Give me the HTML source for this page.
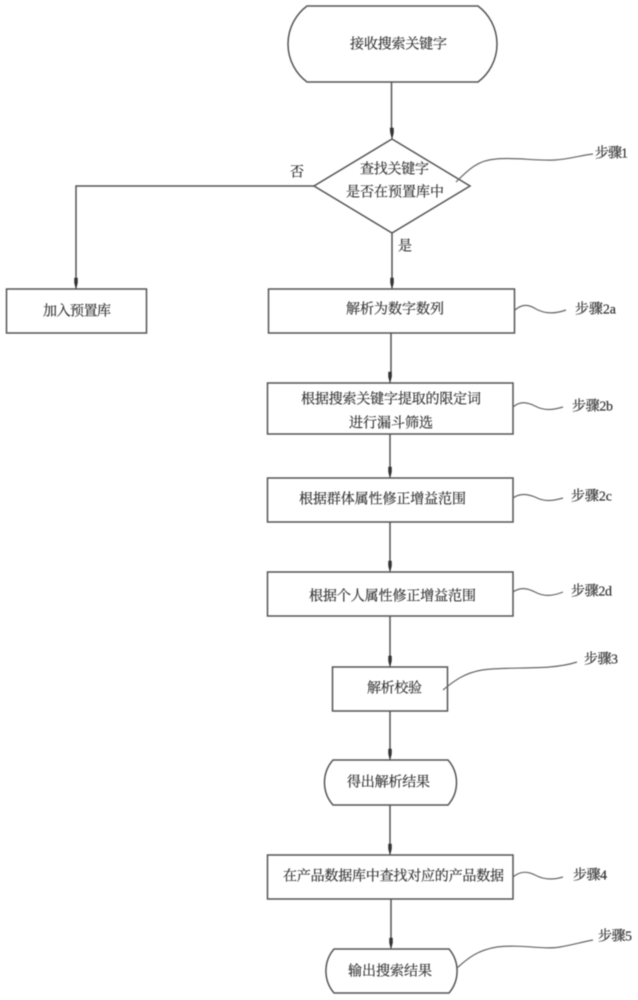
<!DOCTYPE html>
<html><head><meta charset="utf-8"><style>
html,body{margin:0;padding:0;background:#fff;width:638px;height:1000px;overflow:hidden}
svg{display:block}
text{font-family:"Liberation Serif","Noto Serif CJK SC",serif;font-size:14px;fill:#333;stroke:#333;stroke-width:.2;dominant-baseline:central}
.s{fill:none;stroke:#555;stroke-width:1.5}
.c{fill:none;stroke:#666;stroke-width:1.2}
.a{fill:#333;stroke:#333;stroke-width:.5}
</style></head><body>
<svg width="638" height="1000" viewBox="0 0 638 1000" xmlns="http://www.w3.org/2000/svg">
<defs><filter id="b" x="-5%" y="-5%" width="110%" height="110%"><feGaussianBlur stdDeviation="0.5"/></filter></defs>
<g filter="url(#b)">
<path class="s" d="M307 6H478A47.500 47.500 0 0 1 478 82H307A47.500 47.500 0 0 1 307 6Z"/>
<path class="s" d="M392 139L470 186L392 233L314 186Z"/>
<rect class="s" x="6.5" y="289" width="140" height="44"/>
<rect class="s" x="268.5" y="289" width="246" height="44"/>
<rect class="s" x="267.5" y="383" width="245.5" height="51"/>
<rect class="s" x="267.5" y="478" width="245.5" height="44"/>
<rect class="s" x="267.5" y="572" width="245.5" height="44"/>
<rect class="s" x="332.5" y="667" width="115" height="44"/>
<path class="s" d="M333 760H448A34 34 0 0 1 448 805H333A34 34 0 0 1 333 760Z"/>
<rect class="s" x="267.5" y="855" width="245.5" height="44"/>
<path class="s" d="M334 949H449A34 34 0 0 1 449 993H334A34 34 0 0 1 334 949Z"/>

<path class="s" d="M391.5 82V133M392 233V283M391 333V377M390 434V472M390 522V566M390 616V661M390 711V754M390 805V849M391 899V943M314 186H76V283"/>
<path class="a" d="M390 128L393.500 128L393.500 133L392 139L390.500 133Z"/>
<path class="a" d="M74.500 278L77.500 278L77.500 283L76 289L74.500 283Z"/>
<path class="a" d="M390.500 278L393.500 278L393.500 283L392 289L390.500 283Z"/>
<path class="a" d="M388.500 372L391.500 372L391.500 377L390 383L388.500 377Z"/>
<path class="a" d="M388.500 467L391.500 467L391.500 472L390 478L388.500 472Z"/>
<path class="a" d="M388.500 561L391.500 561L391.500 566L390 572L388.500 566Z"/>
<path class="a" d="M388.500 656L391.500 656L391.500 661L390 667L388.500 661Z"/>
<path class="a" d="M388.500 749L391.500 749L391.500 754L390 760L388.500 754Z"/>
<path class="a" d="M388.500 844L391.500 844L391.500 849L390 855L388.500 849Z"/>
<path class="a" d="M389.500 938L392.500 938L392.500 943L391 949L389.500 943Z"/>

<path class="c" d="M456 182C468 170 478 160 496 159C515 157 535 161 555 160C570 159 582 155 593 154"/>
<path class="c" d="M515 310C522 304 528 304 536 309C545 314 555 314 566 310"/>
<path class="c" d="M513 407C520 401 527 402 535 406C544 411 553 410 563 407"/>
<path class="c" d="M513 498C520 493 527 494 535 497C544 502 553 501 563 498"/>
<path class="c" d="M513 592C520 587 527 588 535 592C544 597 553 596 563 592"/>
<path class="c" d="M443 690C455 680 465 673 482 670C510 666 550 671 577 662"/>
<path class="c" d="M513 877C520 871 527 871 535 875C544 880 553 880 563 877"/>
<path class="c" d="M457 968C468 958 478 950 497 947C520 944 545 950 560 947C572 945 582 942 593 940"/>

<text x="350" y="45" textLength="97">接收搜索关键字</text>
<text x="360" y="170" textLength="69">查找关键字</text>
<text x="346" y="193" textLength="98">是否在预置库中</text>
<text x="290" y="173">否</text>
<text x="398" y="247">是</text>
<text x="43" y="312" textLength="68">加入预置库</text>
<text x="346" y="310" textLength="98">解析为数字数列</text>
<text x="301" y="400" textLength="180">根据搜索关键字提取的限定词</text>
<text x="349" y="424" textLength="84">进行漏斗筛选</text>
<text x="299" y="500" textLength="167">根据群体属性修正增益范围</text>
<text x="309" y="597" textLength="167">根据个人属性修正增益范围</text>
<text x="367" y="689" textLength="55">解析校验</text>
<text x="347" y="783" textLength="83">得出解析结果</text>
<text x="283" y="877" textLength="221">在产品数据库中查找对应的产品数据</text>
<text x="348" y="972" textLength="84">输出搜索结果</text>

<text x="595" y="154" textLength="33">步骤1</text>
<text x="575" y="310" textLength="41">步骤2a</text>
<text x="572" y="407" textLength="41">步骤2b</text>
<text x="571" y="497" textLength="41">步骤2c</text>
<text x="571" y="592" textLength="41">步骤2d</text>
<text x="584" y="660" textLength="34">步骤3</text>
<text x="573" y="876" textLength="34">步骤4</text>
<text x="598" y="937" textLength="34">步骤5</text>
</g>
</svg>
</body></html>
